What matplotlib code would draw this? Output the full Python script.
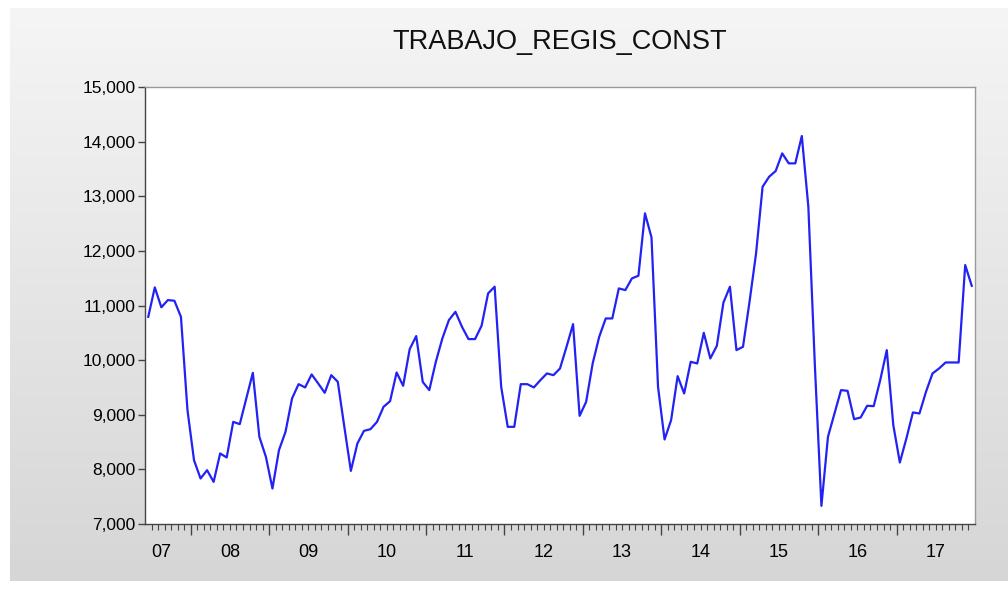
import numpy as np
import pandas as pd
import matplotlib
matplotlib.use("Agg")
import matplotlib.pyplot as plt
from matplotlib.ticker import FuncFormatter
from matplotlib.transforms import blended_transform_factory
from matplotlib.colors import LinearSegmentedColormap

# Monthly series, June 2007 - December 2017
start_period = "2007-06"
end_period = "2017-12"
values = [
    10793, 11331, 10967, 11099, 11087, 10793, 9084,            # 2007 Jun-Dec
    8168, 7833, 7985, 7771, 8291, 8218, 8870, 8828, 9298, 9767, 8595, 8229,   # 2008
    7650, 8352, 8687, 9298, 9560, 9500, 9738, 9573, 9402, 9725, 9603, 8779,   # 2009
    7973, 8474, 8705, 8736, 8870, 9145, 9249, 9774, 9530, 10201, 10440, 9600, # 2010
    9451, 9969, 10397, 10733, 10885, 10610, 10385, 10385, 10629, 11222, 11344, 9512,  # 2011
    8779, 8779, 9560, 9560, 9500, 9634, 9756, 9725, 9847, 10244, 10659, 8980,  # 2012
    9237, 9939, 10427, 10763, 10763, 11313, 11282, 11496, 11545, 12687, 12247, 9512,  # 2013
    8547, 8901, 9707, 9390, 9969, 9939, 10500, 10031, 10262, 11050, 11344, 10183,  # 2014
    10244, 11068, 11954, 13174, 13357, 13462, 13785, 13602, 13602, 14103, 12808, 9900,  # 2015
    7332, 8595, 9023, 9451, 9438, 8919, 8950, 9164, 9158, 9634, 10183, 8810,  # 2016
    8126, 8566, 9042, 9023, 9420, 9756, 9847, 9957, 9957, 9957, 11740, 11361,  # 2017
]
title = "TRABAJO_REGIS_CONST"
y_ticks = [7000, 8000, 9000, 10000, 11000, 12000, 13000, 14000, 15000]

periods = pd.period_range(start_period, end_period, freq="M")
x = np.arange(len(periods))

fig = plt.figure(figsize=(10.08, 5.89), dpi=100)
fig.patch.set_facecolor("white")
plt.rcParams["font.family"] = ["Liberation Sans", "DejaVu Sans"]

# gray gradient background panel
bg = fig.add_axes([10 / 1008, 8 / 589, 1 - 10 / 1008, 1 - 16 / 589], zorder=-10)
grad = np.linspace(0, 1, 256).reshape(-1, 1)
cmap = LinearSegmentedColormap.from_list("g", ["#f5f5f5", "#d6d6d6"])
bg.imshow(grad, aspect="auto", cmap=cmap, extent=[0, 1, 0, 1], origin="upper")
bg.set_axis_off()

ax = fig.add_axes([145 / 1008, 1 - 524 / 589, (975 - 145) / 1008, (524 - 87) / 589])
ax.set_facecolor("white")
ax.plot(x, values, color="#2222f5", lw=1.6)

ax.set_xlim(-0.5, len(x) - 0.5)
ax.set_ylim(y_ticks[0], y_ticks[-1])
ax.set_yticks(y_ticks)
ax.yaxis.set_major_formatter(FuncFormatter(lambda v, p: f"{int(v):,}"))

years = periods.year
months = periods.month
major_pos = [i - 0.5 for i in range(len(periods)) if months[i] == 1]
minor_pos = [i - 0.5 for i in range(1, len(periods)) if months[i] != 1]
ax.set_xticks(major_pos)
ax.set_xticklabels([])
ax.set_xticks(minor_pos, minor=True)
ax.tick_params(axis="x", which="major", length=8, width=1.0, color="#444444")
ax.tick_params(axis="x", which="minor", length=4, width=0.8, color="#444444")
ax.tick_params(axis="y", length=5, width=1.0, color="#444444", labelsize=12.5, pad=2)

trans = blended_transform_factory(ax.transData, ax.transAxes)
for yr in sorted(set(years)):
    idx = [i for i in range(len(periods)) if years[i] == yr]
    if len(idx) == 12:
        cx = (idx[0] + idx[-1]) / 2
    else:
        cx = (idx[0] + idx[-1]) / 2 - 1
    ax.text(cx, -0.045, f"{yr % 100:02d}", transform=trans, ha="center", va="top",
            fontsize=13, color="black")

for s in ["left", "bottom"]:
    ax.spines[s].set_color("#444444")
    ax.spines[s].set_linewidth(1.0)
for s in ["top", "right"]:
    ax.spines[s].set_color("#999999")
    ax.spines[s].set_linewidth(1.0)

fig.text(560 / 1008, 1 - 42 / 589, title, ha="center", va="center", fontsize=19.5, color="#111111")

fig.savefig("out.png", dpi=100, facecolor=fig.get_facecolor())
